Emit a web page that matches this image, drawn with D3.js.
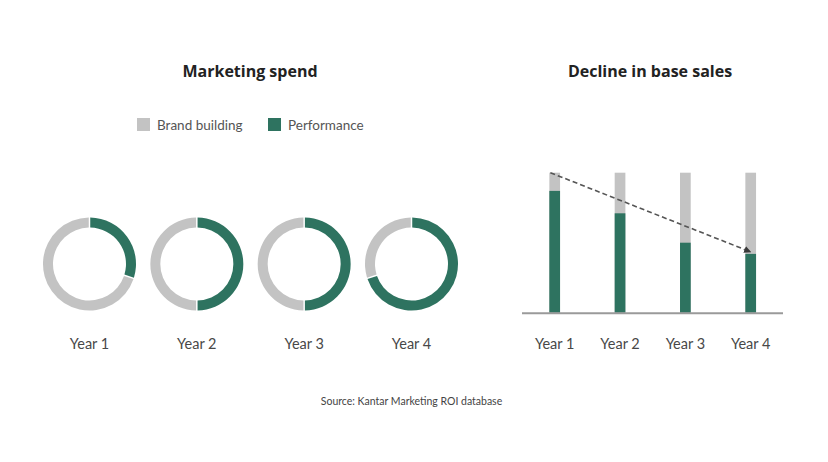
<!DOCTYPE html>
<html><head><meta charset="utf-8">
<script src="https://cdn.jsdelivr.net/npm/d3@7"></script>
<style>
html,body{margin:0;padding:0;background:#fff;}
svg{display:block;font-family:Lato, "Open Sans", sans-serif;}
</style></head>
<body>
<svg id="c" width="828" height="462"></svg>
<script>
const years = ["Year 1", "Year 2", "Year 3", "Year 4"];
const performanceShare = [30, 50, 50, 70];   // % of marketing spend
const brandShare = [70, 50, 50, 30];
const baseSales = [87, 71, 50, 42];           // base sales index (total = 100)
const totalIndex = [100, 100, 100, 100];
const seriesNames = ["Brand building", "Performance"];
const colors = {brand: "#c3c3c3", perf: "#2e7360"};

const svg = d3.select("#c");

// Titles
const titleFont = "'Open Sans', Lato, sans-serif";
svg.append("text").attr("x", 250).attr("y", 77).attr("text-anchor", "middle")
  .attr("font-family", titleFont).attr("font-size", 16).attr("font-weight", 700).attr("fill", "#222").text("Marketing spend");
svg.append("text").attr("x", 650).attr("y", 77).attr("text-anchor", "middle")
  .attr("font-family", titleFont).attr("font-size", 16).attr("font-weight", 700).attr("fill", "#222").text("Decline in base sales");

// Legend
const legX = [137, 268];
seriesNames.forEach((n, i) => {
  const g = svg.append("g").attr("transform", `translate(${legX[i]},118)`);
  g.append("rect").attr("width", 13).attr("height", 13).attr("fill", i ? colors.perf : colors.brand);
  g.append("text").attr("x", 20).attr("y", 11.5).attr("font-size", 13.5).attr("fill", "#555").text(n);
});

// Donuts
const xd = d3.scalePoint().domain(years).range([89.5, 411.5]);
const pie = d3.pie().sort(null).value(d => d.v);
const arc = d3.arc().innerRadius(36.5).outerRadius(46.5).padAngle(0.025);
years.forEach((y, i) => {
  const g = svg.append("g").attr("transform", `translate(${xd(y)},264)`);
  const data = [{k: "perf", v: performanceShare[i]}, {k: "brand", v: brandShare[i]}];
  g.selectAll("path").data(pie(data)).join("path")
    .attr("d", arc).attr("fill", d => colors[d.data.k]);
  svg.append("text").attr("x", xd(y)).attr("y", 349).attr("text-anchor", "middle")
    .attr("font-size", 14.5).attr("fill", "#484848").text(y);
});

// Bars
const xb = d3.scalePoint().domain(years).range([554.7, 750.7]);
const yb = d3.scaleLinear().domain([0, 100]).range([312.7, 172.7]);
const bw = 10.7;
years.forEach((y, i) => {
  const cx = xb(y);
  svg.append("rect").attr("x", cx - bw / 2).attr("y", yb(totalIndex[i])).attr("width", bw)
    .attr("height", yb(0) - yb(totalIndex[i])).attr("fill", colors.brand);
  svg.append("rect").attr("x", cx - bw / 2).attr("y", yb(baseSales[i])).attr("width", bw)
    .attr("height", yb(0) - yb(baseSales[i])).attr("fill", colors.perf);
  svg.append("text").attr("x", cx).attr("y", 349).attr("text-anchor", "middle")
    .attr("font-size", 14.5).attr("fill", "#484848").text(y);
});
// baseline
svg.append("line").attr("x1", 522).attr("x2", 783).attr("y1", yb(0) + 0.5).attr("y2", yb(0) + 0.5)
  .attr("stroke", "#9a9a9a").attr("stroke-width", 2);

// dashed arrow
svg.append("defs").append("marker").attr("id", "ah").attr("viewBox", "0 0 10 10")
  .attr("refX", 9).attr("refY", 5).attr("markerWidth", 4.5).attr("markerHeight", 4.5)
  .attr("orient", "auto").append("path").attr("d", "M0,0 L10,5 L0,10 z").attr("fill", "#3a3a3a");
const c0 = xb(years[0]) - bw / 2 + 1;
const c3 = xb(years[3]);
svg.append("line").attr("x1", c0).attr("y1", yb(100)).attr("x2", c3).attr("y2", yb(baseSales[3]) - 2)
  .attr("stroke", "#555").attr("stroke-width", 1.6).attr("stroke-dasharray", "5,3")
  .attr("marker-end", "url(#ah)");

// Source
svg.append("text").attr("x", 411.5).attr("y", 405).attr("text-anchor", "middle")
  .attr("font-size", 10.5).attr("fill", "#444").text("Source: Kantar Marketing ROI database");
</script>
</body></html>
